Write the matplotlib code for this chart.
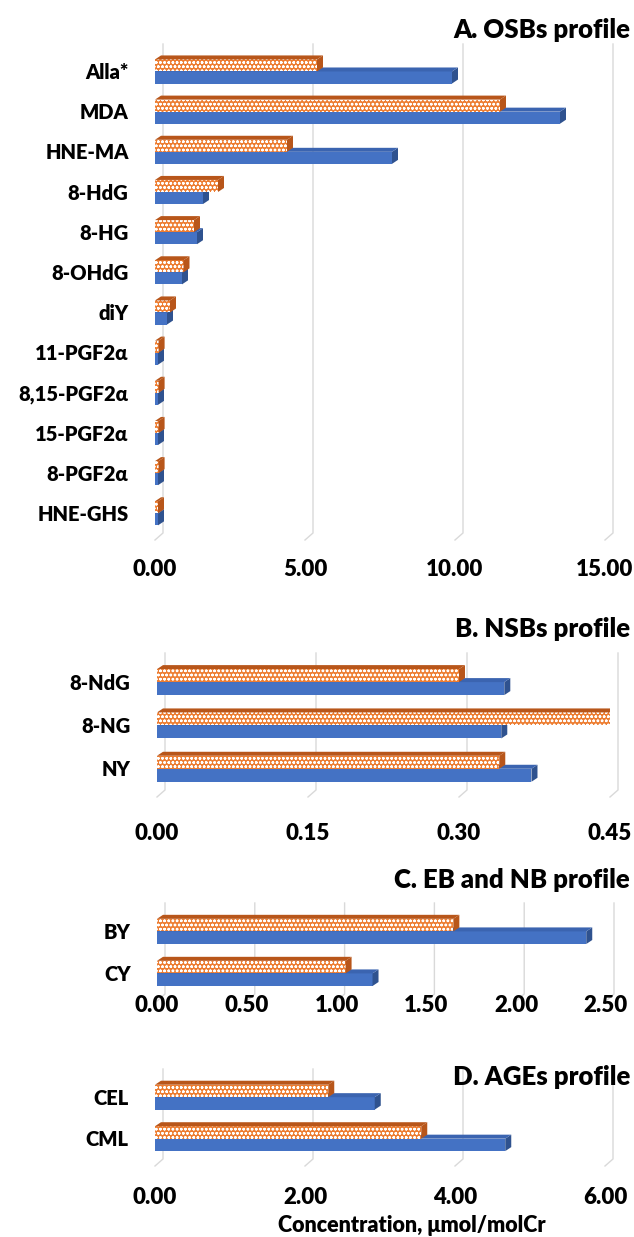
import numpy as np
import matplotlib.pyplot as plt

plt.rcParams['font.family'] = ['Lato', 'DejaVu Sans']
plt.rcParams['font.weight'] = 'heavy'
plt.rcParams['hatch.linewidth'] = 0.7

# Data
osb_labels = ['Alla*', 'MDA', 'HNE-MA', '8-HdG', '8-HG', '8-OHdG', 'diY',
              '11-PGF2α', '8,15-PGF2α', '15-PGF2α', '8-PGF2α', 'HNE-GHS']
osb_blue = [9.9, 13.5, 7.9, 1.6, 1.4, 0.9, 0.4, 0.1, 0.1, 0.1, 0.1, 0.1]
osb_orange = [5.4, 11.5, 4.4, 2.1, 1.3, 0.95, 0.5, 0.12, 0.12, 0.12, 0.12, 0.1]

nsb_labels = ['8-NdG', '8-NG', 'NY']
nsb_blue = [0.345, 0.342, 0.372]
nsb_orange = [0.30, 0.452, 0.34]

eb_labels = ['BY', 'CY']
eb_blue = [2.39, 1.2]
eb_orange = [1.65, 1.05]

age_labels = ['CEL', 'CML']
age_blue = [2.93, 4.67]
age_orange = [2.31, 3.55]

W, H = 634, 1237
fig = plt.figure(figsize=(W / 100, H / 100), dpi=100)

BLUE = '#4472C4'
BLUE_SIDE = '#2F528F'
BLUE_TOP = '#3B64B0'
ORANGE = '#ED7D31'
ORANGE_SIDE = '#B8561A'
GRID = '#D9D9D9'
WEIGHT = 'heavy'


def make_axes(left, right, top, bottom):
    return fig.add_axes([left / W, 1 - bottom / H, (right - left) / W, (bottom - top) / H])


def bar3d(ax, y, v, h, face, side, top, hatch, dx, dy):
    ax.barh(y, v, height=h, color=face, edgecolor='white' if hatch else face,
            hatch=hatch, linewidth=0, zorder=3)
    yt = y - h / 2
    yb = y + h / 2
    ax.fill([v, v, v + dx, v + dx], [yt, yb, yb - dy, yt - dy], color=side, zorder=3, lw=0)
    ax.fill([0, v, v + dx, dx], [yt, yt, yt - dy, yt - dy], color=top, zorder=3, lw=0)


def panel(ax, labels, blue, orange, xmax, ticks, pad, width_px, height_px):
    n = len(labels)
    y = np.arange(n)
    ax.set_xlim(0, xmax)
    ax.set_ylim(n - 0.5, -0.5)
    dx = 6 * xmax / width_px
    dy = 4 * n / height_px
    h = 0.3
    # back-wall gridlines with a perspective foot
    gdx = 8 * xmax / width_px
    gdy = 7 * n / height_px
    for t in ticks:
        ax.plot([t + gdx, t + gdx, t], [-0.5 - gdy, n - 0.5, n - 0.5 + gdy],
                color=GRID, lw=1, zorder=1, clip_on=False)
    for i in range(n):
        bar3d(ax, y[i] + 0.16, blue[i], h, BLUE, BLUE_SIDE, BLUE_TOP, None, dx, dy)
        bar3d(ax, y[i] - 0.14, orange[i], h, ORANGE, ORANGE_SIDE, ORANGE_SIDE, 'oooo', dx, dy)
    ax.set_yticks(y)
    ax.set_yticklabels(labels, fontsize=14.5, fontweight=WEIGHT)
    ax.set_xticks(ticks)
    ax.set_xticklabels(['{:.2f}'.format(t) for t in ticks], fontsize=16, fontweight=WEIGHT)
    ax.tick_params(axis='x', length=0, pad=pad)
    ax.tick_params(axis='y', length=0, pad=19)
    for s in ax.spines.values():
        s.set_visible(False)
    ax.set_facecolor('none')


# A. OSBs profile
ax1 = make_axes(155, 605, 51, 533)
panel(ax1, osb_labels, osb_blue, osb_orange, 15, [0, 5, 10, 15], 19, 450, 482)
fig.text(630 / W, 1 - 30 / H, 'A. OSBs profile', ha='right', va='center',
         fontsize=18.5, fontweight=WEIGHT)

# B. NSBs profile
ax2 = make_axes(157, 610, 660, 790)
panel(ax2, nsb_labels, nsb_blue, nsb_orange, 0.45, [0, 0.15, 0.30, 0.45], 24, 453, 130)
fig.text(630 / W, 1 - 629 / H, 'B. NSBs profile', ha='right', va='center',
         fontsize=18.5, fontweight=WEIGHT)

# C. EB and NB profile
ax3 = make_axes(157, 606, 910, 994)
panel(ax3, eb_labels, eb_blue, eb_orange, 2.5, [0, 0.5, 1.0, 1.5, 2.0, 2.5], 1, 449, 84)
fig.text(630 / W, 1 - 880 / H, 'C. EB and NB profile', ha='right', va='center',
         fontsize=18.5, fontweight=WEIGHT)

# D. AGEs profile
ax4 = make_axes(155, 605, 1076, 1159)
panel(ax4, age_labels, age_blue, age_orange, 6, [0, 2, 4, 6], 20, 450, 83)
fig.text(630 / W, 1 - 1077 / H, 'D. AGEs profile', ha='right', va='center',
         fontsize=18.5, fontweight=WEIGHT)
fig.text(412 / W, 1 - 1225 / H, 'Concentration, μmol/molCr', ha='center', va='center',
         fontsize=15.5, fontweight=WEIGHT)

fig.savefig('out.png', dpi=100)
